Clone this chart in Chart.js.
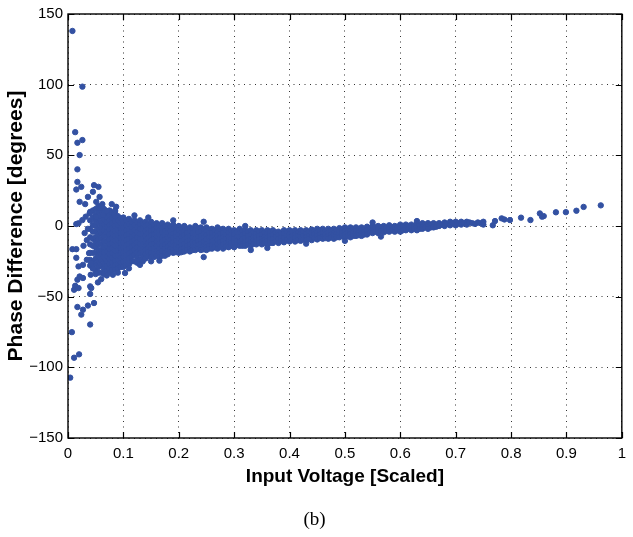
<!DOCTYPE html>
<html>
<head>
<meta charset="utf-8">
<script src="https://cdn.jsdelivr.net/npm/chart.js@4/dist/chart.umd.min.js"></script>
<style>
  html, body { margin: 0; padding: 0; background: #fff; }
  #wrap { position: relative; width: 633px; height: 537px; }
</style>
</head>
<body>
<div id="wrap"><canvas id="chart"></canvas></div>
<script>
// ── data ──────────────────────────────────────────────────
// dense band: one column of phase values per voltage step
const bandVoltage = [
  0.04, 0.045, 0.05, 0.055, 0.06, 0.065, 0.07, 0.075, 0.08, 0.085,
  0.09, 0.095, 0.10, 0.105, 0.11, 0.115, 0.12, 0.125, 0.13, 0.135,
  0.14, 0.145, 0.15, 0.155, 0.16, 0.165, 0.17, 0.175, 0.18, 0.185,
  0.19, 0.195, 0.20, 0.205, 0.21, 0.215, 0.22, 0.225, 0.23, 0.235,
  0.24, 0.245, 0.25, 0.255, 0.26, 0.265, 0.27, 0.275, 0.28, 0.285,
  0.29, 0.295, 0.30, 0.305, 0.31, 0.315, 0.32, 0.325, 0.33, 0.335,
  0.34, 0.345, 0.35, 0.355, 0.36, 0.365, 0.37, 0.375, 0.38, 0.385,
  0.39, 0.395, 0.40, 0.405, 0.41, 0.415, 0.42, 0.425, 0.43, 0.435,
  0.44, 0.445, 0.45, 0.455, 0.46, 0.465, 0.47, 0.475, 0.48, 0.485,
  0.49, 0.495, 0.50, 0.505, 0.51, 0.515, 0.52, 0.525, 0.53, 0.535,
  0.54, 0.545, 0.55, 0.555, 0.56, 0.565, 0.57, 0.575, 0.58, 0.585,
  0.59, 0.595, 0.60, 0.605, 0.61, 0.615, 0.62, 0.625, 0.63, 0.635,
  0.64, 0.645, 0.65, 0.655, 0.66, 0.665, 0.67, 0.675, 0.68, 0.685,
  0.69, 0.695, 0.70, 0.705, 0.71, 0.715, 0.72, 0.725, 0.73, 0.735,
  0.74, 0.745, 0.75
];
const bandPhase = [
  [10, 4, -2, -8, -13, -19, -24, -28],
  [11, 6, 1, -4, -9, -14, -19, -25, -30],
  [12, 8, 4, 0, -4, -8, -11, -15, -19, -23, -27, -31],
  [14, 10, 6, 2, -2, -6, -9.5, -13, -17, -21, -25, -29, -33],
  [11, 7, 3, -1, -5, -9, -13, -17, -20, -24, -28, -33],
  [12, 9, 5, 1, -3, -7, -11, -15, -18.5, -22, -26, -30, -34],
  [10, 6.5, 3, -0.5, -4, -7.5, -11, -14.5, -18, -21.5, -25, -28.5, -32],
  [11, 8, 4.5, 1, -2.5, -6, -9.5, -13, -16.5, -20, -23.5, -27, -30.5, -33],
  [9, 5.5, 2, -1.5, -5, -8.5, -12, -15.5, -19, -22.5, -26, -29, -31],
  [10, 7, 3.5, 0, -3.5, -7, -10.5, -14, -17.5, -21, -24.5, -28, -31],
  [7, 4, 0.5, -3, -6.5, -10, -13.5, -17, -20.5, -24, -27, -30],
  [5.5, 2, -1.5, -5, -8.5, -12, -15.5, -19, -22.5, -26, -29],
  [6, 2.5, -1, -4.5, -8, -11.5, -15, -18.5, -22, -25.5, -29],
  [4, 0.5, -3, -6.5, -10, -13.5, -17, -20.5, -24, -27.5],
  [5, 1.5, -2, -5.5, -9, -12.5, -16, -19.5, -23, -27],
  [3, -0.5, -4, -7.5, -11, -14.5, -18, -21.5, -25],
  [4, 0.5, -3, -6.5, -10, -13.5, -17, -20.5, -25],
  [2.5, -1, -4.5, -8, -11.5, -15, -18.5, -22, -26],
  [4, 1, -2, -5.5, -9, -12.5, -16, -19.5, -24],
  [2, -1.5, -5, -8.5, -12, -15.5, -19, -22, -25],
  [3, 0, -3.5, -7, -10.5, -14, -17, -20, -23],
  [1.5, -2, -5, -8.5, -12, -15.5, -18.5, -21.5],
  [3, -0.5, -3.5, -6.5, -10, -13, -16, -19, -22],
  [1, -2.5, -6, -9, -12.5, -15.5, -19, -22],
  [2, -1, -4, -7.5, -11, -14, -17.5, -21],
  [0.5, -3, -6, -9.5, -12.5, -16, -19, -22],
  [2, -1.5, -4.5, -8, -11, -14.5, -17.5, -21],
  [0, -3.5, -6.5, -9.5, -13, -16, -19, -21],
  [1, -2, -5, -8, -11.5, -14.5, -17.5, -20],
  [-0.5, -3.5, -7, -10, -13, -16, -18.5],
  [1, -2.5, -5.5, -8.5, -11.5, -14.5, -17, -19],
  [-1, -4.5, -7.5, -10.5, -13.5, -16, -18.5],
  [0, -3, -6, -9, -12, -15, -17, -19],
  [-1.5, -4.5, -7.5, -10.5, -13.5, -16.5, -18.5],
  [0, -3.5, -6.5, -9.5, -12.5, -15.5, -18],
  [-2, -5, -8, -11, -14, -17],
  [-1, -4, -7, -10, -13, -16, -18],
  [-2, -5, -8.5, -11.5, -14.5, -17],
  [0, -3, -6, -9, -12, -14.5, -17],
  [-1.5, -4.5, -7.5, -10.5, -13.5, -16],
  [-1, -4, -7, -10, -12.5, -15, -17],
  [-2.5, -5.5, -8.5, -11, -14, -16.5],
  [-1, -3.5, -6.5, -9.5, -12.5, -15, -17],
  [-2.5, -5, -8, -11, -14, -16],
  [-2, -5, -8, -11, -13.5, -16],
  [-3, -6.5, -9.5, -12, -15],
  [-1, -4, -7, -10, -13, -16],
  [-2.5, -5.5, -8.5, -11.5, -14.5],
  [-2, -5, -8, -10.5, -13, -16],
  [-3.5, -6.5, -9, -12, -14.5],
  [-2, -4.5, -7.5, -10.5, -13, -15],
  [-3.5, -6, -9, -12, -14],
  [-3, -6, -9, -12, -15],
  [-4, -7.5, -10.5, -13.5],
  [-2, -5, -8, -11, -14],
  [-3.5, -6.5, -9.5, -12.5, -14],
  [-3, -5.5, -8.5, -11.5, -14],
  [-4, -7, -10, -13],
  [-3, -6, -9, -11.5, -14],
  [-4.5, -7.5, -10, -12.5],
  [-3, -5.5, -8, -10.5, -13],
  [-4, -7, -9.5, -12],
  [-3, -6, -9, -11, -13],
  [-4.5, -7.5, -10, -12],
  [-3, -5.5, -8, -10.5, -13],
  [-4, -7, -9.5, -12],
  [-3, -6, -9, -12],
  [-4.5, -7.5, -10.5],
  [-4, -6.5, -9, -12],
  [-5, -8, -10.5],
  [-3, -5.5, -8.5, -11.5],
  [-4, -7, -10],
  [-3, -5.5, -8, -11],
  [-4, -7, -9.5],
  [-3, -6, -8.5, -11],
  [-4.5, -7, -10],
  [-3, -5.5, -8, -10.5],
  [-4, -7, -9.5],
  [-3, -5.5, -8, -10],
  [-4, -7, -9],
  [-2.5, -5, -7.5, -10],
  [-3.5, -6, -8.5],
  [-2, -4.5, -7, -9.5],
  [-3, -6, -8.5],
  [-2, -5, -7.5, -9],
  [-3.5, -6, -8.5],
  [-2, -4.5, -7, -9],
  [-3, -6, -8],
  [-2, -4.5, -6.5, -9],
  [-3, -5.5, -8],
  [-1.5, -4, -6, -8],
  [-2.5, -5, -7],
  [-1, -3.5, -6, -8],
  [-2, -5, -7],
  [-1, -3.5, -5.5, -8],
  [-2, -4.5, -7],
  [-1, -3.5, -5.5, -7],
  [-2, -4.5, -6.5],
  [-1, -3, -5, -7],
  [-2, -4, -6],
  [-0.5, -3, -6],
  [-1.5, -4.5],
  [0, -2.5, -5],
  [-1, -4],
  [0, -2.5, -5],
  [-1, -3.5],
  [0, -2, -4.5],
  [-1, -3.5],
  [0.5, -2, -4],
  [-1, -3],
  [0, -2, -4],
  [-0.5, -3],
  [1, -1.5, -4],
  [0, -3],
  [1, -1, -3],
  [0, -2],
  [1, -1, -3],
  [0, -2],
  [1.5, -1, -3],
  [0.5, -2],
  [2, -0.5, -2],
  [1, -1],
  [2, 0, -2],
  [1, -1],
  [2, 0, -1],
  [1, -0.5],
  [2, 0],
  [1],
  [2.5, 0],
  [1.5],
  [3, 0.5],
  [2],
  [3, 0.5],
  [2],
  [3, 1],
  [2],
  [3, 1],
  [2.5],
  [2],
  [1.5],
  [2.5],
  [2],
  [3, 1]
];

// scattered points (low-voltage fan, band edges, high-voltage tail)
const scatterVoltage = [
  0.008, 0.026, 0.013, 0.017, 0.026, 0.021, 0.017, 0.017, 0.024, 0.015,
  0.047, 0.055, 0.045, 0.036, 0.057, 0.021, 0.031, 0.051, 0.062, 0.079,
  0.087, 0.057, 0.070, 0.083, 0.032, 0.026, 0.019, 0.015, 0.051, 0.039,
  0.063, 0.008, 0.015, 0.015, 0.019, 0.027, 0.034, 0.038, 0.042, 0.021,
  0.027, 0.017, 0.013, 0.011, 0.019, 0.041, 0.040, 0.042, 0.040, 0.054,
  0.060, 0.017, 0.027, 0.024, 0.036, 0.047, 0.040, 0.007, 0.011, 0.020,
  0.004, 0.081, 0.103, 0.030, 0.034, 0.028, 0.036, 0.045, 0.050,
  0.245, 0.130, 0.150, 0.165, 0.330, 0.360, 0.430, 0.500, 0.565, 0.120,
  0.145, 0.190, 0.245, 0.320, 0.550, 0.630, 0.070, 0.090, 0.110, 0.060,
  0.085,
  0.767, 0.771, 0.783, 0.788, 0.798, 0.818, 0.835, 0.852, 0.856, 0.859,
  0.881, 0.899, 0.918, 0.931, 0.962
];
const scatterPhase = [
  138, 98.6, 66.4, 58.9, 60.8, 50.2, 40.1, 31.2, 27.7, 25.8,
  28.9, 27.7, 24.2, 20.6, 20.6, 17.1, 15.5, 17.1, 15.5, 15.5,
  13.6, 12.5, 10.6, 8.9, 6.6, 4.2, 1.9, 1.4, 6.6, 8.9,
  7.7, -16.4, -16.4, -22.5, -28.6, -27.5, -23.9, -19.2, -26.3, -35.7,
  -36.8, -38, -42.3, -45.1, -43.9, -34.5, -42.7, -43.9, -48.1, -39.9,
  -37.6, -57.3, -59.2, -62.7, -56.3, -54.5, -69.7, -75.1, -93.2, -90.8,
  -107.3, -34.5, -33.3, -5, -10, -14, -2, -30, -34,
  -22, -27.5, -25, -24.5, -17, -15.5, -12.5, -10.5, -7.5, 7.5,
  6, 4, 3, 0, 2.5, 3.5, -35, -33, -30, 14,
  11,
  0.5, 3.5, 5.4, 4.6, 4.2, 5.9, 4.2, 8.9, 6.6, 7.0,
  9.7, 9.8, 10.8, 13.5, 14.6
];

const xTicks = [0, 0.1, 0.2, 0.3, 0.4, 0.5, 0.6, 0.7, 0.8, 0.9, 1];
const yTicks = [-150, -100, -50, 0, 50, 100, 150];

// ── build points ─────────────────────────────────────────
const points = [];
bandVoltage.forEach((v, i) => {
  bandPhase[i].forEach((p) => points.push({ x: v, y: p }));
});
scatterVoltage.forEach((v, i) => points.push({ x: v, y: scatterPhase[i] }));

const MARK = '#3351a2';
const SANS = "'Liberation Sans', Arial, Helvetica, sans-serif";

// MATLAB-style box with inward tick marks on all four sides
const frameTicks = {
  id: 'frameTicks',
  afterDatasetsDraw(chart) {
    const { ctx, chartArea: a, scales: { x, y } } = chart;
    const len = 6;
    ctx.save();
    ctx.strokeStyle = '#000';
    ctx.lineWidth = 1.2;
    ctx.beginPath();
    xTicks.forEach((t) => {
      const p = Math.round(x.getPixelForValue(t)) + 0.5;
      ctx.moveTo(p, a.bottom); ctx.lineTo(p, a.bottom - len);
      ctx.moveTo(p, a.top); ctx.lineTo(p, a.top + len);
    });
    yTicks.forEach((t) => {
      const p = Math.round(y.getPixelForValue(t)) + 0.5;
      ctx.moveTo(a.left, p); ctx.lineTo(a.left + len, p);
      ctx.moveTo(a.right, p); ctx.lineTo(a.right - len, p);
    });
    ctx.stroke();
    ctx.lineWidth = 1.4;
    ctx.strokeRect(a.left, a.top, a.right - a.left, a.bottom - a.top);
    ctx.restore();
  }
};

new Chart(document.getElementById('chart').getContext('2d'), {
  type: 'scatter',
  data: {
    datasets: [{
      data: points,
      backgroundColor: MARK,
      borderColor: MARK,
      borderWidth: 1,
      pointRadius: 2.7,
      pointHoverRadius: 2.7,
    }],
  },
  options: {
    responsive: true,
    maintainAspectRatio: false,
    animation: false,
    events: [],
    layout: { padding: { top: 12, right: 4, left: 0, bottom: 0 } },
    plugins: {
      legend: { display: false },
      tooltip: { enabled: false },
      title: {
        display: true,
        position: 'bottom',
        text: '(b)',
        color: '#000',
        font: { family: "'Liberation Serif', 'Times New Roman', serif", size: 19, weight: 'normal' },
        padding: { top: 0, bottom: 6 },
      },
    },
    scales: {
      x: {
        type: 'linear',
        min: 0,
        max: 1,
        afterFit: (s) => { s.height = 70.2; },
        afterBuildTicks: (s) => { s.ticks = xTicks.map((v) => ({ value: v })); },
        ticks: {
          color: '#000',
          padding: 7,
          maxRotation: 0,
          autoSkip: false,
          font: { family: SANS, size: 15 },
          callback: (v) => String(Math.round(v * 10) / 10),
        },
        grid: { color: '#333', lineWidth: 1, drawTicks: false },
        border: { display: false, dash: [1, 4.5] },
        title: {
          display: true,
          text: 'Input Voltage [Scaled]',
          color: '#000',
          font: { family: SANS, size: 19, weight: 'bold' },
          padding: { top: 0, bottom: 20 },
        },
      },
      y: {
        type: 'linear',
        min: -150,
        max: 150,
        afterFit: (s) => { s.width = 68; },
        afterBuildTicks: (s) => { s.ticks = yTicks.map((v) => ({ value: v })); },
        ticks: {
          color: '#000',
          padding: 5,
          autoSkip: false,
          font: { family: SANS, size: 15 },
          callback: (v) => (v < 0 ? '\u2212' + Math.abs(v) : String(v)),
        },
        grid: { color: '#333', lineWidth: 1, drawTicks: false },
        border: { display: false, dash: [1, 4.5] },
        title: {
          display: true,
          text: 'Phase Difference [degrees]',
          color: '#000',
          font: { family: SANS, size: 21, weight: 'bold' },
          padding: { top: 3.5, bottom: 0 },
        },
      },
    },
  },
  plugins: [frameTicks],
});
</script>
</body>
</html>
